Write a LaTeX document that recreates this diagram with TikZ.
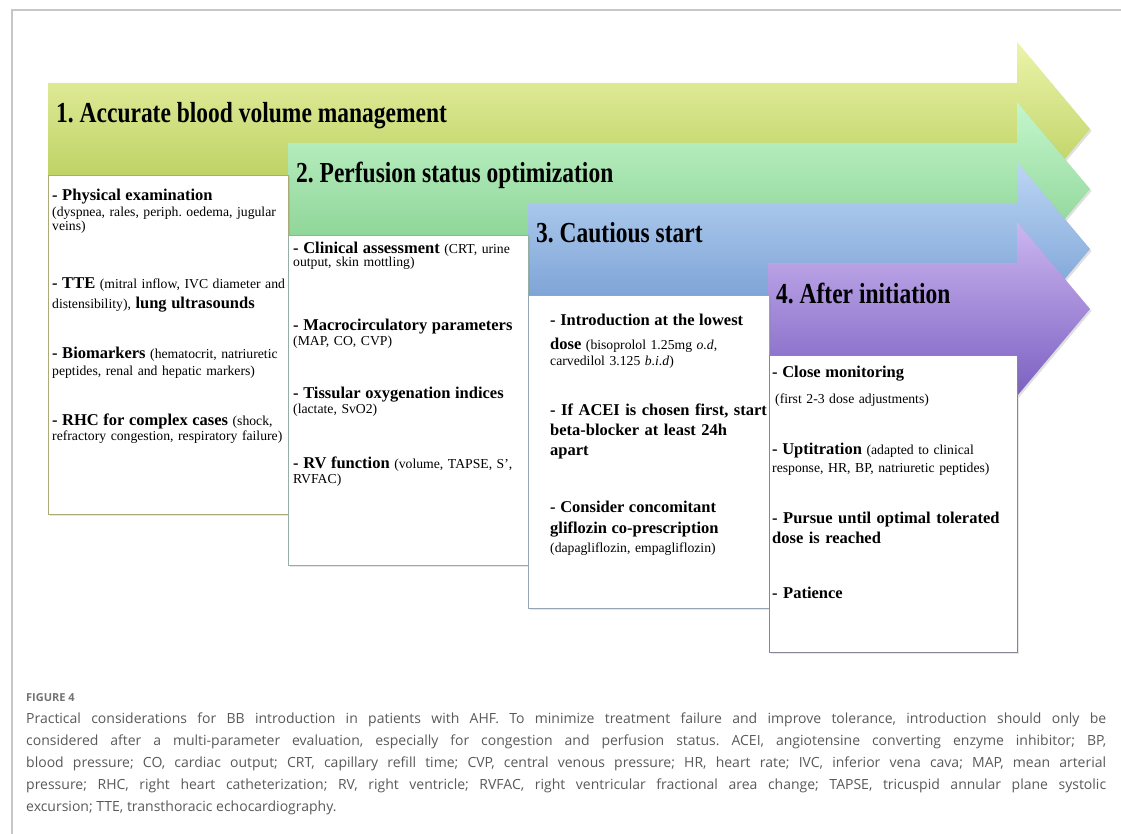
\documentclass[tikz,border=0pt]{standalone}
\usepackage{fontspec}
\setmainfont{Liberation Serif}
\newfontfamily\capfont{Open Sans}
\usetikzlibrary{positioning,shadows}
\frenchspacing

\definecolor{limeTop}{RGB}{236,244,170}
\definecolor{limeBot}{RGB}{176,200,80}
\definecolor{mintTop}{RGB}{196,246,204}
\definecolor{mintBot}{RGB}{128,204,138}
\definecolor{skyTop}{RGB}{188,214,244}
\definecolor{skyBot}{RGB}{108,150,206}
\definecolor{lilacTop}{RGB}{204,182,240}
\definecolor{lilacBot}{RGB}{124,96,194}
\definecolor{boxOne}{RGB}{170,172,120}
\definecolor{boxTwo}{RGB}{150,175,165}
\definecolor{boxThree}{RGB}{150,165,180}
\definecolor{boxFour}{RGB}{135,135,155}

\newcommand{\itemhd}[1]{{\fontsize{16.5}{20}\selectfont\bfseries #1}}

\tikzset{
  arr1/.style={top color=limeTop, bottom color=limeBot},
  arr2/.style={top color=mintTop, bottom color=mintBot},
  arr3/.style={top color=skyTop, bottom color=skyBot},
  arr4/.style={top color=lilacTop, bottom color=lilacBot},
  stagearrow/.style={drop shadow={opacity=0.25, shadow xshift=1.5pt, shadow yshift=-2pt}},
  stagetitle/.style={anchor=base west, inner sep=0pt, font=\fontsize{29}{32}\selectfont\bfseries},
  stagebox/.style={draw=#1, line width=1.1pt, fill=white, anchor=north west, inner sep=0pt,
    drop shadow={opacity=0.2, shadow xshift=1.5pt, shadow yshift=-1.5pt}},
  item/.style={anchor=base west, inner sep=0pt, text width=262pt, align=left,
    font=\fontsize{13.7}{16}\selectfont},
  itemb/.style={item, font=\fontsize{16.5}{20}\selectfont\bfseries},
  frameline/.style={draw=black!22, line width=1.4pt}
}

\begin{document}
\begin{tikzpicture}[x=1pt, y=-1pt]
\useasboundingbox (0,0) rectangle (1121,834);

% page frame
\draw[frameline] (12,834) -- (12,10) -- (1121,10);

% the four stage arrows
\foreach \n/\ttl in {1/{1. Accurate blood volume management},
                     2/{2. Perfusion status optimization},
                     3/{3. Cautious start},
                     4/{4. After initiation}}{
  \pgfmathsetmacro\xl{48+240*(\n-1)}
  \pgfmathsetmacro\yt{83+60*(\n-1)}
  \shade[arr\n, stagearrow] (\xl,\yt) -- (1017,\yt) -- (1017,\yt-41) -- (1090,\yt+46)
     -- (1017,\yt+133) -- (1017,\yt+92) -- (\xl,\yt+92) -- cycle;
  \node[stagetitle] (title\n) at (\xl+8,\yt+40) {\scalebox{0.81}[1]{\ttl}};
}

% boxes under the arrows
\node[stagebox=boxOne,   minimum width=240pt, minimum height=339pt] (box1) at (48,175) {};
\node[stagebox=boxTwo,   minimum width=240pt, minimum height=330pt] (box2) at (288,235) {};
\node[stagebox=boxThree, minimum width=241pt, minimum height=313pt] (box3) at (528,295) {};
\node[stagebox=boxFour,  minimum width=248pt, minimum height=297pt] (box4) at (769,355) {};

% box 1
\node[item] (exam) at (52,201) {\itemhd{- Physical examination}\\ (dyspnea, rales, periph. oedema, jugular\\[-2pt] veins)};
\node[item] (tte) at (52,288) {\itemhd{- TTE} (mitral inflow, IVC diameter and\\[4pt] distensibility), \itemhd{lung ultrasounds}};
\node[item] (bio) at (52,358) {\itemhd{- Biomarkers} (hematocrit, natriuretic\\[1pt] peptides, renal and hepatic markers)};
\node[item] (rhc) at (52,425) {\itemhd{- RHC for complex cases} (shock,\\[-1pt] refractory congestion, respiratory failure)};

% box 2
\node[item] (clin) at (293,254) {\itemhd{- Clinical assessment} (CRT, urine\\[-3pt] output, skin mottling)};
\node[item] (macro) at (293,330) {\itemhd{- Macrocirculatory parameters}\\[-1pt] (MAP, CO, CVP)};
\node[item] (tiss) at (293,398) {\itemhd{- Tissular oxygenation indices}\\[-1pt] (lactate, SvO2)};
\node[item] (rvf) at (293,468) {\itemhd{- RV function} (volume, TAPSE, S’,\\[-1pt] RVFAC)};

% box 3
\node[item] (intro) at (550,325) {\itemhd{- Introduction at the lowest}\\[8pt] \itemhd{dose} (bisoprolol 1.25mg \textit{o.d},\\ carvedilol 3.125 \textit{b.i.d})};
\node[itemb] (acei) at (550,415) {- If ACEI is chosen first, start\\ beta-blocker at least 24h\\ apart};
\node[item] (glif) at (550,512) {\itemhd{- Consider concomitant}\\[5pt] \itemhd{gliflozin co-prescription}\\[3pt] (dapagliflozin, empagliflozin)};

% box 4
\node[item] (close) at (772,377) {\itemhd{- Close monitoring}\\[10pt] \hspace*{3pt}(first 2-3 dose adjustments)};
\node[item] (uptit) at (772,454) {\itemhd{- Uptitration} (adapted to clinical\\[2pt] response, HR, BP, natriuretic peptides)};
\node[itemb] (pursue) at (772,523) {- Pursue until optimal tolerated\\ dose is reached};
\node[itemb] (patience) at (772,598) {- Patience};

% caption
\node[anchor=base west, inner sep=0pt, font=\capfont\fontsize{11}{13}\selectfont\bfseries, text=black!55] (figlabel) at (26,701) {FIGURE 4};
\node[anchor=base west, inner sep=0pt, text width=1080pt, align=justify,
      font=\capfont\fontsize{14}{22}\selectfont, text=black!65] (caption) at (26,723)
  {Practical considerations for BB introduction in patients with AHF. To minimize treatment failure and improve tolerance, introduction should only be\linebreak
   considered after a multi-parameter evaluation, especially for congestion and perfusion status. ACEI, angiotensine converting enzyme inhibitor; BP,\linebreak
   blood pressure; CO, cardiac output; CRT, capillary refill time; CVP, central venous pressure; HR, heart rate; IVC, inferior vena cava; MAP, mean arterial\linebreak
   pressure; RHC, right heart catheterization; RV, right ventricle; RVFAC, right ventricular fractional area change; TAPSE, tricuspid annular plane systolic\linebreak
   excursion; TTE, transthoracic echocardiography.};

\end{tikzpicture}
\end{document}
